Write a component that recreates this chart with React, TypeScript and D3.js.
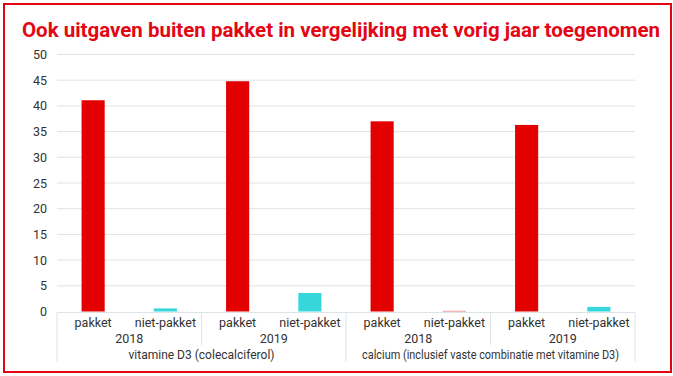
import React from "react";
import * as d3 from "d3";

const title = "Ook uitgaven buiten pakket in vergelijking met vorig jaar toegenomen";
const products = ["vitamine D3 (colecalciferol)", "calcium (inclusief vaste combinatie met vitamine D3)"];
const years = ["2018", "2019"];
const kinds = ["pakket", "niet-pakket"];
// values in order: product, year, kind
const values = [41.1, 0.6, 44.8, 3.6, 37.0, 0.15, 36.3, 0.9];
const barColors = ["#e30000", "#36d6dc", "#e30000", "#36d6dc", "#e30000", "#eaa0a0", "#e30000", "#36d6dc"];
const yTicks = [0, 5, 10, 15, 20, 25, 30, 35, 40, 45, 50];

const W = 673;
const H = 376;
const left = 57;
const right = 635;
const top = 54.5;
const bottom = 311.5;

export default function App() {
  const cells = d3.range(values.length);
  const x = d3.scaleBand<number>().domain(cells).range([left, right]).padding(0);
  const y = d3.scaleLinear().domain([0, 50]).range([bottom, top]);
  const bw = x.bandwidth() * 0.32;
  const step = x.step();
  const font = "Roboto, 'DejaVu Sans', sans-serif";
  const txt = "#333";
  const line = "#dde4e4";
  const boxTop = 312.5;

  return (
    <div style={{ position: "absolute", left: 0, top: 0 }}>
      <svg width={W} height={H} style={{ display: "block" }}>
        <rect x={0} y={0} width={W} height={H} fill="#fff" />
        <rect x={4} y={4} width={667} height={368} fill="none" stroke="#e30613" strokeWidth={2} />
        <text x={22} y={37} fill="#e30613" fontFamily={font} fontWeight={700} fontSize={20}
          textLength={638} lengthAdjust="spacingAndGlyphs">{title}</text>
        {yTicks.map((t) => (
          <g key={t}>
            {t > 0 && <line x1={left} x2={right} y1={y(t)} y2={y(t)} stroke={line} strokeWidth={1} />}
            <text x={47} y={y(t) + 4.5} textAnchor="end" fontFamily={font} fontSize={12.5} fill={txt}>{t}</text>
          </g>
        ))}
        {cells.map((i) => {
          const v = values[i];
          const y0 = y(v);
          return (
            <rect key={i} x={(x(i) as number) + (step - bw) / 2} y={y0} width={bw}
              height={Math.max(bottom - y0, 1)} fill={barColors[i]} />
          );
        })}
        <line x1={left} x2={right} y1={boxTop} y2={boxTop} stroke={line} />
        {[0, 2, 4, 6, 8].map((i) => {
          const xx = i === 8 ? right : (x(i) as number);
          const long = i % 4 === 0;
          return <line key={i} x1={xx} x2={xx} y1={boxTop} y2={long ? 361.5 : 345} stroke={line} />;
        })}
        {cells.map((i) => (
          <text key={i} x={(x(i) as number) + step / 2} y={326.5} textAnchor="middle" fontFamily={font}
            fontSize={12.5} fill={txt}>{kinds[i % 2]}</text>
        ))}
        {d3.range(4).map((g) => (
          <text key={g} x={(x(g * 2) as number) + step} y={342.5} textAnchor="middle" fontFamily={font}
            fontSize={12.5} fill={txt}>{years[g % 2]}</text>
        ))}
        {products.map((p, k) => (
          <text key={k} x={(x(k * 4) as number) + step * 2} y={358.5} textAnchor="middle" fontFamily={font}
            fontSize={12} fill={txt} textLength={k === 0 ? 146 : 257} lengthAdjust="spacingAndGlyphs">{p}</text>
        ))}
      </svg>
    </div>
  );
}
